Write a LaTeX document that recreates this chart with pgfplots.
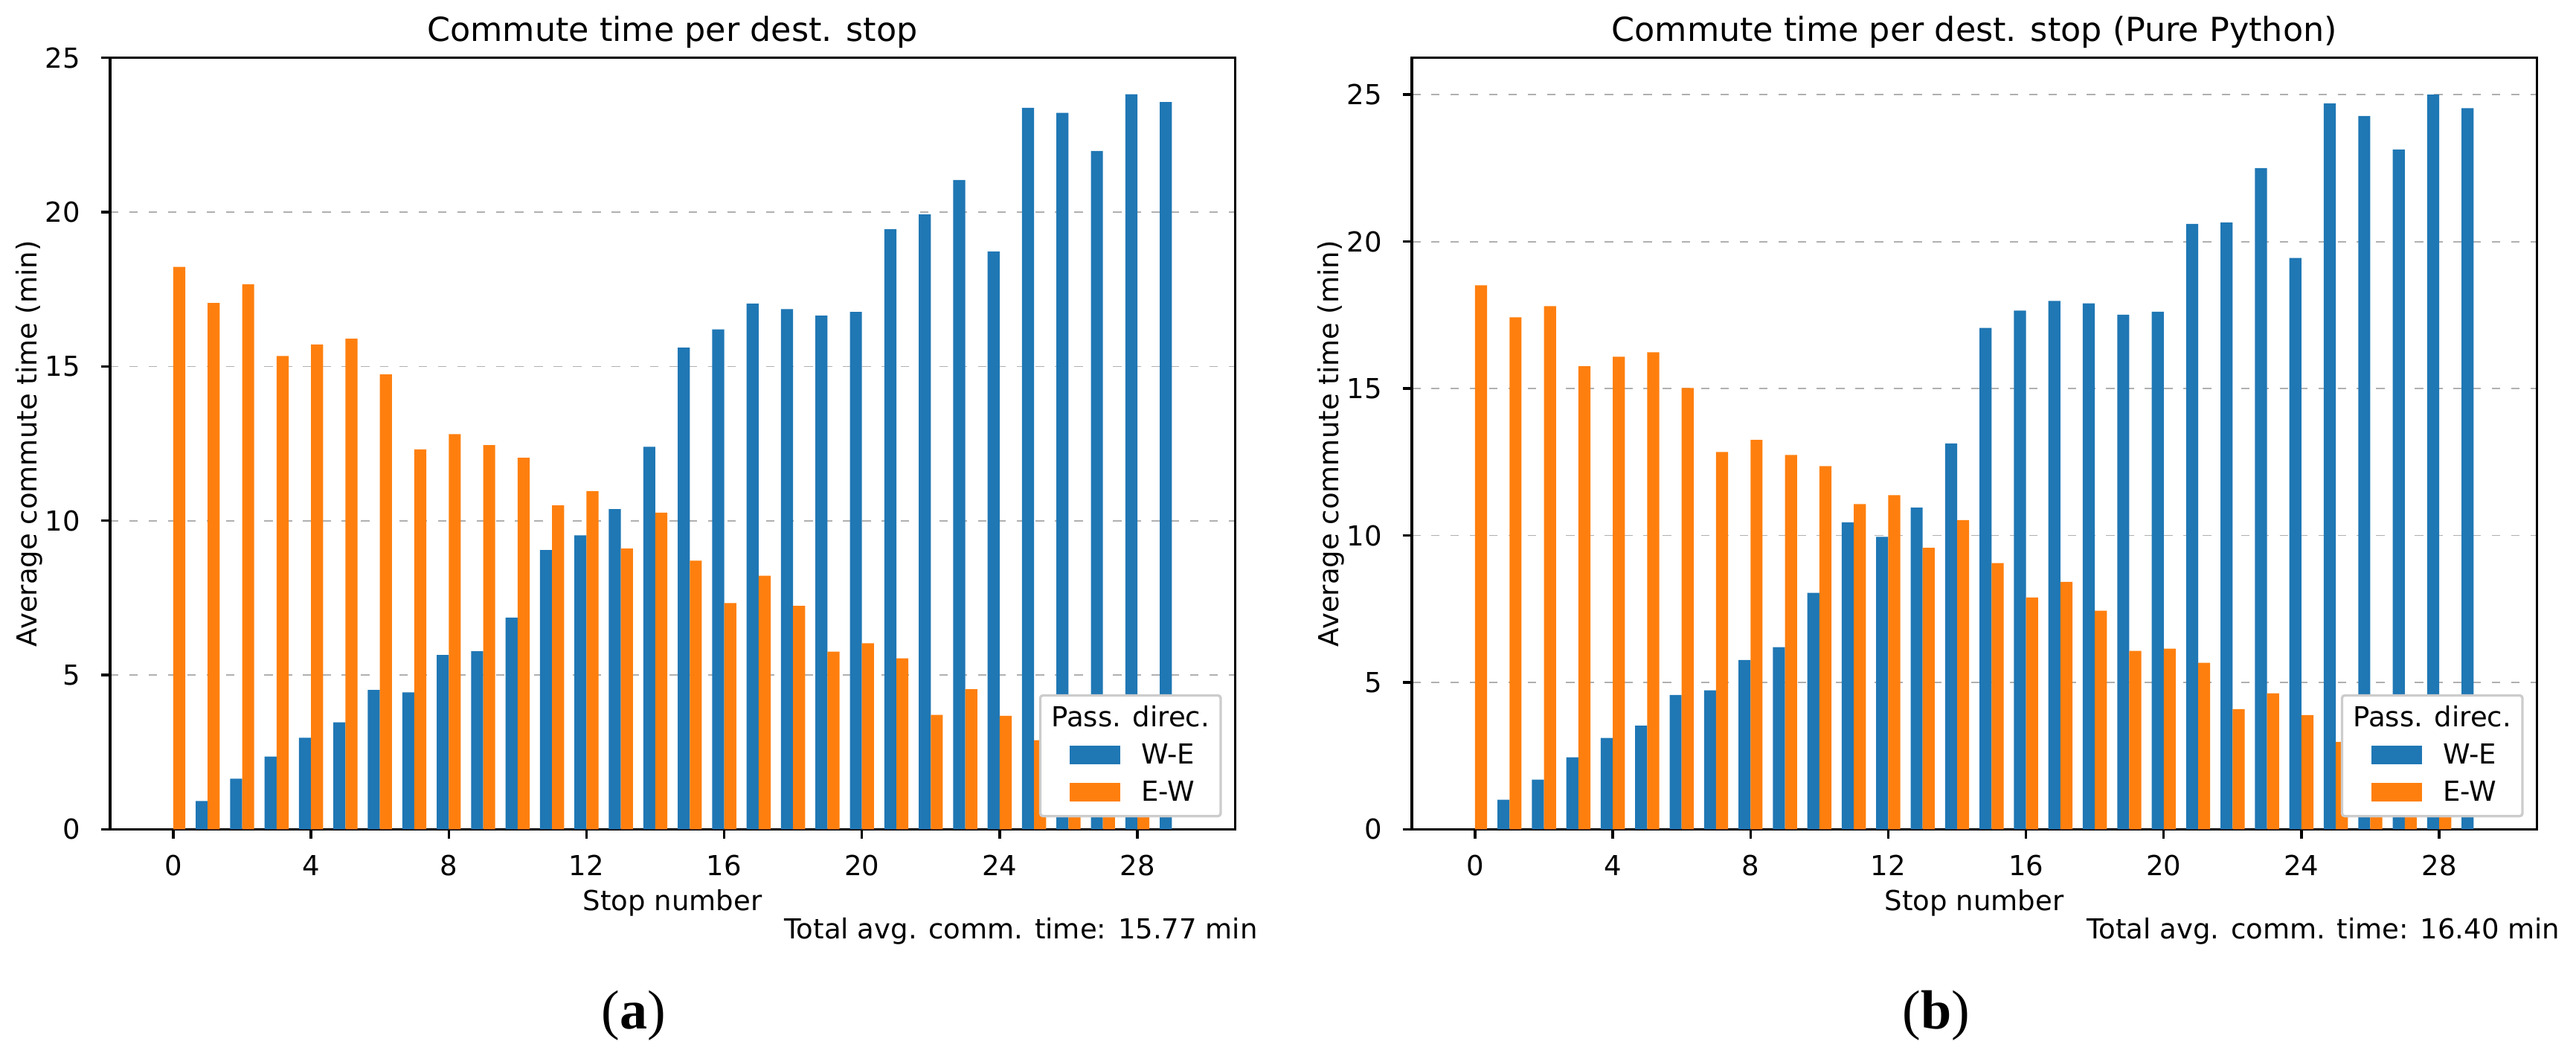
\documentclass[border=0pt]{standalone}
\usepackage{fontspec}
\setmainfont{DejaVu Sans}
\newfontfamily\capfont{Liberation Serif}
\usepackage{pgfplots}
\usepackage{pgfplotstable}
\pgfplotsset{compat=1.18}

\definecolor{cWE}{HTML}{1F77B4}
\definecolor{cEW}{HTML}{FF7F0E}
\definecolor{gridgray}{HTML}{B0B0B0}
\definecolor{leggray}{HTML}{CCCCCC}

% (a) commute time per destination stop
\pgfplotstableread{
stop we ew
0 0 18.23
1 0.92 17.06
2 1.64 17.66
3 2.36 15.34
4 2.97 15.71
5 3.47 15.90
6 4.52 14.74
7 4.44 12.31
8 5.65 12.81
9 5.77 12.45
10 6.86 12.04
11 9.05 10.50
12 9.53 10.96
13 10.38 9.10
14 12.40 10.26
15 15.61 8.71
16 16.20 7.33
17 17.04 8.22
18 16.86 7.24
19 16.65 5.76
20 16.77 6.03
21 19.45 5.54
22 19.93 3.71
23 21.04 4.54
24 18.73 3.68
25 23.38 2.89
26 23.22 2.30
27 21.98 1.60
28 23.82 0.90
29 23.57 0
}\tabA

% (b) pure python
\pgfplotstableread{
stop we ew
0 0 18.51
1 1.01 17.42
2 1.69 17.80
3 2.45 15.76
4 3.11 16.08
5 3.53 16.23
6 4.57 15.02
7 4.73 12.84
8 5.76 13.25
9 6.20 12.74
10 8.05 12.36
11 10.45 11.07
12 9.95 11.37
13 10.95 9.58
14 13.13 10.52
15 17.06 9.06
16 17.65 7.89
17 17.98 8.42
18 17.90 7.44
19 17.51 6.07
20 17.61 6.15
21 20.60 5.67
22 20.65 4.09
23 22.50 4.63
24 19.44 3.89
25 24.70 2.98
26 24.27 2.40
27 23.13 1.70
28 25.00 1.00
29 24.54 0
}\tabB

\pgfplotsset{
  commute/.style={
    scale only axis, width=408.3pt, height=279.9pt,
    anchor=south west, clip=false,
    xmin=-1.835, xmax=30.835, ymin=0,
    xtick={0,4,...,28},
    tick pos=left, tick align=outside,
    major tick length=3.3pt,
    tick style={black, line width=0.9pt},
    axis line style={black, line width=0.9pt},
    ymajorgrids,
    major grid style={gridgray, line width=0.5pt, dash pattern=on 3.1pt off 3.9pt},
    /pgf/number format/assume math mode=true,
    ticklabel style={font=\fontsize{10}{12}\selectfont, inner sep=0pt},
    xticklabel style={anchor=north, yshift=-5.9pt},
    yticklabel style={anchor=east, xshift=-7.4pt},
    every axis x label/.style={at={(rel axis cs:0.5,0)}, anchor=base, yshift=-29.4pt, font=\fontsize{10}{12}\selectfont},
    every axis y label/.style={at={(rel axis cs:0,0.5)}, xshift=-26.5pt, rotate=90, anchor=base, font=\fontsize{10}{12}\selectfont},
    every axis title/.style={at={(rel axis cs:0.5,1)}, anchor=base, yshift=6pt, font=\fontsize{12}{14}\selectfont},
    xlabel={Stop number},
    ylabel={Average commute time (min)},
    legend cell align=left,
    legend style={at={(1,0)}, anchor=south east, xshift=-4.75pt, yshift=4.35pt,
      draw=leggray, line width=0.9pt, rounded corners=1pt, fill=white,
      inner xsep=4.05pt, inner ysep=3.65pt,
      font=\fontsize{10}{12}\selectfont,
      row sep=4pt,
      nodes={inner sep=0pt, text height=7.6pt, text depth=1.9pt},
      /tikz/every odd column/.append style={column sep=7.7pt}},
  },
  webar/.style={ybar, bar width=0.35, bar shift=-0.175, fill=cWE, draw=none,
    legend image code/.code={\path (0pt,0pt); \fill[cWE, sharp corners] (6.5pt,-3.05pt) rectangle (24.9pt,3.75pt);}},
  ewbar/.style={ybar, bar width=0.35, bar shift=0.175, fill=cEW, draw=none,
    legend image code/.code={\path (0pt,0pt); \fill[cEW, sharp corners] (6.5pt,-3.05pt) rectangle (24.9pt,3.75pt);}},
}

\begin{document}
\begin{tikzpicture}
\path (0pt,0pt) rectangle (935pt,383.1pt);

\begin{axis}[commute, at={(39.96pt,82.2pt)},
  ymax=25, ytick={0,5,...,25},
  title={Commute time per dest. stop}]
  \addlegendimage{empty legend}
  \addlegendentry{\hspace*{-32.6pt}Pass. direc.}
  \addplot[webar] table[x=stop, y=we] {\tabA};
  \addlegendentry{W-E}
  \addplot[ewbar] table[x=stop, y=ew] {\tabA};
  \addlegendentry{E-W}
  \node[anchor=base east, inner sep=0pt, font=\fontsize{10}{12}\selectfont, xshift=8.4pt, yshift=-39.6pt]
    at (rel axis cs:1,0) {Total avg. comm. time: 15.77 min};
\end{axis}

\begin{axis}[commute, at={(512.46pt,82.2pt)},
  ymax=26.25, ytick={0,5,...,25},
  title={Commute time per dest. stop (Pure Python)}]
  \addlegendimage{empty legend}
  \addlegendentry{\hspace*{-32.6pt}Pass. direc.}
  \addplot[webar] table[x=stop, y=we] {\tabB};
  \addlegendentry{W-E}
  \addplot[ewbar] table[x=stop, y=ew] {\tabB};
  \addlegendentry{E-W}
  \node[anchor=base east, inner sep=0pt, font=\fontsize{10}{12}\selectfont, xshift=8.6pt, yshift=-39.6pt]
    at (rel axis cs:1,0) {Total avg. comm. time: 16.40 min};
\end{axis}

\node[anchor=base, inner sep=0pt] at (230pt,9.7pt) {\capfont\fontsize{20}{24}\selectfont(\textbf{a})};
\node[anchor=base, inner sep=0pt] at (702.8pt,9.7pt) {\capfont\fontsize{20}{24}\selectfont(\textbf{b})};
\end{tikzpicture}
\end{document}
